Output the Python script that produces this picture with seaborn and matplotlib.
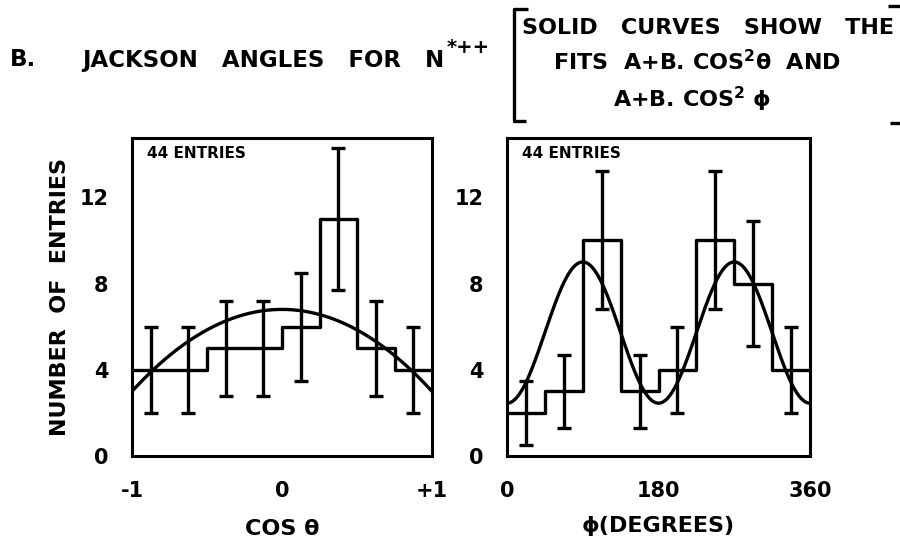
import numpy as np
import pandas as pd
import matplotlib
matplotlib.use("Agg")
import matplotlib.pyplot as plt
from matplotlib.lines import Line2D
import seaborn as sns

# ---- data -------------------------------------------------------------
# cos(theta) distribution, 8 bins over [-1, 1]
cos_edges = [-1.0, -0.75, -0.5, -0.25, 0.0, 0.25, 0.5, 0.75, 1.0]
cos_counts = [4, 4, 5, 5, 6, 11, 5, 4]
cos_errors = [2.0, 2.0, 2.2, 2.2, 2.5, 3.3, 2.2, 2.0]

# phi distribution (degrees), 8 bins over [0, 360]
phi_edges = [0, 45, 90, 135, 180, 225, 270, 315, 360]
phi_counts = [2, 3, 10, 3, 4, 10, 8, 4]
phi_errors = [1.5, 1.7, 3.2, 1.7, 2.0, 3.2, 2.9, 2.0]

# fitted A + B cos^2 parameters
cos_fit_A, cos_fit_B = 6.8, -3.8
phi_fit_A, phi_fit_B = 9.0, -6.55

cos_ticks = [-1, 0, 1]
cos_ticklabels = ["-1", "0", "+1"]
phi_ticks = [0, 180, 360]
phi_ticklabels = ["0", "180", "360"]
y_ticks = [0, 4, 8, 12]
y_ticklabels = ["0", "4", "8", "12"]

# ---- style ------------------------------------------------------------
sns.set_theme(style="white")
INK = "black"
plt.rcParams["font.family"] = ["DejaVu Sans"]
plt.rcParams["font.weight"] = "bold"
plt.rcParams["text.color"] = INK
plt.rcParams["axes.labelcolor"] = INK
plt.rcParams["xtick.color"] = INK
plt.rcParams["ytick.color"] = INK
plt.rcParams["mathtext.fontset"] = "dejavusans"
plt.rcParams["mathtext.default"] = "bf"

LW = 2.4
W, H = 900, 545

fig = plt.figure(figsize=(W / 100, H / 100), dpi=100)
fig.patch.set_facecolor("white")

ax_cos = fig.add_axes([132 / W, 1 - 456 / H, 300 / W, 318 / H])
ax_phi = fig.add_axes([507 / W, 1 - 456 / H, 303 / W, 318 / H])


def draw_panel(ax, edges, counts, errors, fit_x, fit_y):
    centers = [(a + b) / 2 for a, b in zip(edges[:-1], edges[1:])]
    table = pd.DataFrame({"x": centers, "n": counts})
    sns.histplot(data=table, x="x", weights="n", bins=list(edges),
                 element="step", fill=False, color=INK, linewidth=LW, ax=ax)
    ax.errorbar(centers, counts, yerr=errors, fmt="none", ecolor=INK,
                elinewidth=LW, capsize=5, capthick=LW, zorder=3)
    sns.lineplot(x=fit_x, y=fit_y, color=INK, linewidth=LW, ax=ax)
    for side in ax.spines.values():
        side.set_color(INK)
        side.set_linewidth(2.2)
    ax.set_ylim(0, 14.75)
    ax.set_yticks(y_ticks)
    ax.set_yticklabels(y_ticklabels)
    ax.tick_params(axis="both", direction="out", length=9, width=2.2,
                   color=INK, labelcolor=INK, labelsize=15)
    ax.tick_params(axis="x", pad=9)
    ax.tick_params(axis="y", pad=8)
    ax.set_ylabel("")
    ax.text(0.05, 0.952, "44 ENTRIES", transform=ax.transAxes,
            fontsize=11, fontweight="bold", va="center", ha="left")


# left: cos(theta)
x_cos = np.linspace(-1, 1, 300)
draw_panel(ax_cos, cos_edges, cos_counts, cos_errors,
           x_cos, cos_fit_A + cos_fit_B * x_cos ** 2)
ax_cos.set_xlim(-1, 1)
ax_cos.set_xticks(cos_ticks)
ax_cos.set_xticklabels(cos_ticklabels)
ax_cos.set_xlabel("COS θ", fontsize=16, fontweight="bold", labelpad=13)
ax_cos.set_ylabel("NUMBER  OF  ENTRIES", fontsize=16, fontweight="bold",
                  labelpad=7)

# right: phi
x_phi = np.linspace(0, 360, 400)
draw_panel(ax_phi, phi_edges, phi_counts, phi_errors,
           x_phi, phi_fit_A + phi_fit_B * np.cos(np.radians(x_phi)) ** 2)
ax_phi.set_xlim(0, 360)
ax_phi.set_xticks(phi_ticks)
ax_phi.set_xticklabels(phi_ticklabels)
ax_phi.set_xlabel("ϕ(DEGREES)", fontsize=16, fontweight="bold", labelpad=11)

# ---- heading ----------------------------------------------------------
def ftext(x, y, s, **kw):
    kw.setdefault("fontsize", 16)
    kw.setdefault("fontweight", "bold")
    kw.setdefault("va", "center")
    kw.setdefault("ha", "left")
    kw.setdefault("color", INK)
    fig.text(x / W, 1 - y / H, s, **kw)


ftext(10, 60, "B.", fontsize=16.5)
ftext(82, 61, "JACKSON   ANGLES   FOR   N", fontsize=16.5)
ftext(447, 47, "*++", fontsize=14)

ftext(522, 28, "SOLID   CURVES   SHOW   THE")
ftext(553, 62, "FITS  A+B. COS$^{2}$θ  AND")
ftext(613, 99, "A+B. COS$^{2}$ ϕ")


def fline(xs, ys, lw=2.4):
    fig.add_artist(Line2D([x / W for x in xs], [1 - y / H for y in ys],
                          transform=fig.transFigure, color=INK, lw=lw,
                          solid_capstyle="butt"))


# square brackets around the note
fline([528, 514, 514, 526], [9, 9, 121, 121])
fline([888, 900], [6, 6])
fline([890, 900], [123, 123])

fig.savefig("out.png", dpi=100, facecolor="white")
